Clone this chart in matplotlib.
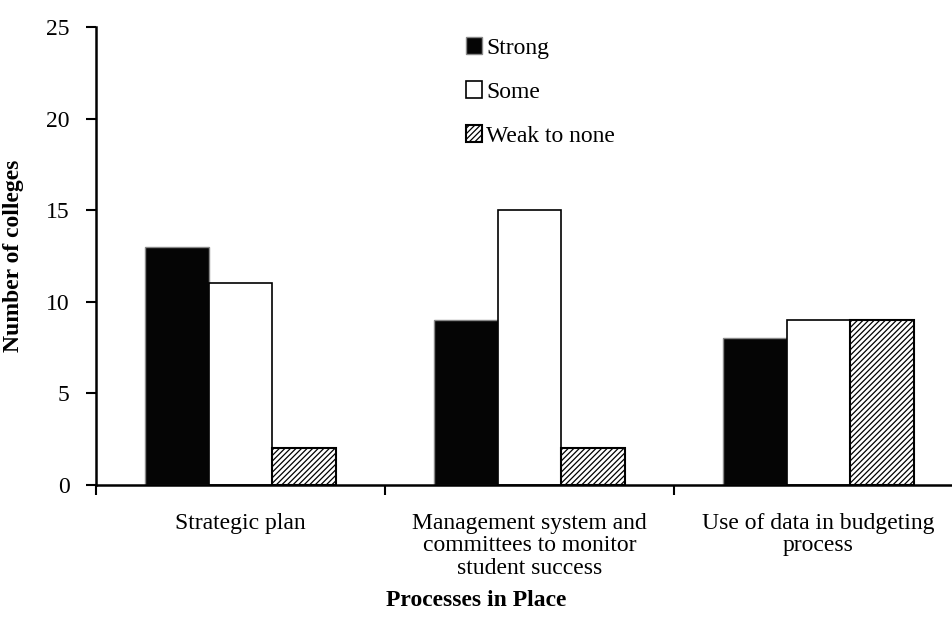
import matplotlib.pyplot as plt
import numpy as np

plt.rcParams['font.family'] = ['Liberation Serif', 'DejaVu Serif']
plt.rcParams['hatch.linewidth'] = 0.9
plt.rcParams['hatch.color'] = '#333333'

# data
categories = ["Strategic plan",
              "Management system and\ncommittees to monitor\nstudent success",
              "Use of data in budgeting\nprocess"]
strong = [13, 9, 8]
some = [11, 15, 9]
weak = [2, 2, 9]

fig = plt.figure(figsize=(9.53, 6.36), dpi=100)
ax = fig.add_axes([96 / 953, 151 / 636, 867 / 953, 458 / 636])

x = np.arange(len(categories))
w = 0.221
ax.bar(x - w, strong, w, color='#050505', edgecolor='#888888', linewidth=1, label='Strong')
ax.bar(x, some, w, color='white', edgecolor='black', linewidth=1.2, label='Some')
ax.bar(x + w, weak, w, color='white', edgecolor='black', linewidth=1.5,
       hatch='//////', label='Weak to none')

ax.set_xlim(-0.5, 2.5)
ax.set_ylim(0, 25)
ax.set_yticks([0, 5, 10, 15, 20, 25])
ax.set_xticks([-0.5, 0.5, 1.5], minor=False)
ax.set_xticklabels([])
ax.set_xticks(x, minor=True)
ax.set_xticklabels(categories, minor=True, fontsize=17, linespacing=1.1)
ax.tick_params(axis='x', which='minor', length=0, pad=20)
ax.tick_params(axis='x', which='major', direction='out', length=7, width=1.5)
ax.tick_params(axis='y', direction='out', length=7, width=1.5, labelsize=17, pad=12)
for s in ['top', 'right']:
    ax.spines[s].set_visible(False)
for s in ['left', 'bottom']:
    ax.spines[s].set_linewidth(1.8)
ax.spines['bottom'].set_clip_on(False)

ax.set_ylabel("Number of colleges", fontsize=17, fontweight='bold', labelpad=16)
fig.text(0.5, 1 - 600 / 636, "Processes in Place", fontsize=17, fontweight='bold',
         ha='center', va='center')

ax.legend(loc='upper left', bbox_to_anchor=(0.413, 1.003), frameon=False, fontsize=17,
          handlelength=0.7, handleheight=0.7, handletextpad=0.15, labelspacing=0.95,
          borderpad=0)

fig.savefig('out.png', dpi=100)
